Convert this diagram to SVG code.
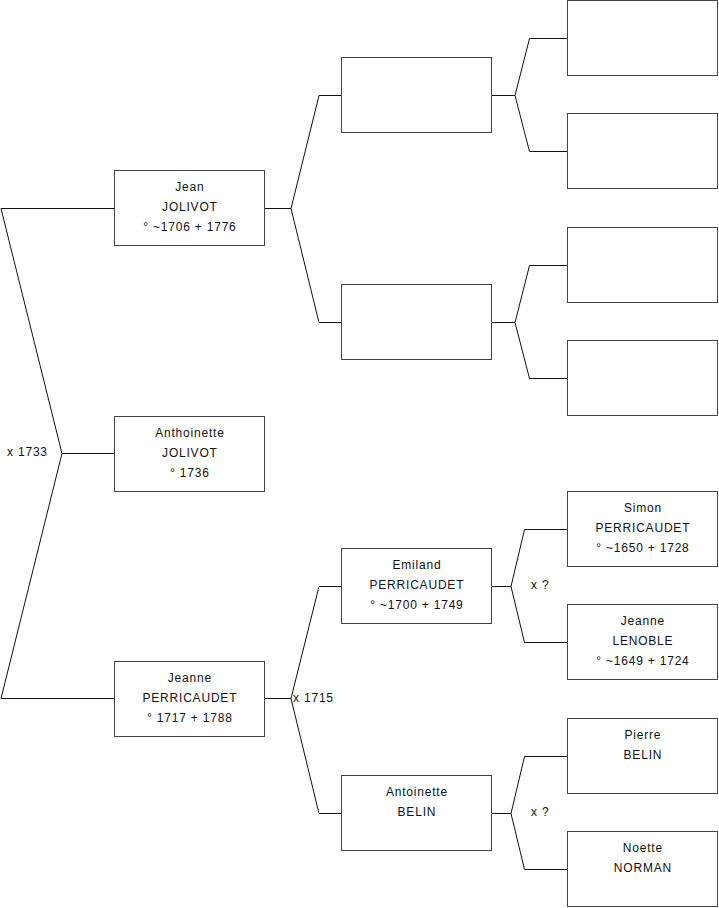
<svg xmlns="http://www.w3.org/2000/svg" width="719" height="908" viewBox="0 0 719 908">
<style>
.box{fill:#fff;stroke:#444;stroke-width:1}
.ln{fill:none;stroke:#111;stroke-width:1}
text{font-family:"Liberation Sans",Arial,sans-serif;font-size:12px;letter-spacing:0.8px;fill:#111}
.c{text-anchor:middle}
</style>
<rect width="719" height="908" fill="#fff"/>
<g id="connectors">
<polyline class="ln" points="114,208.5 1,208.5 62,453.5 1,698.5 114,698.5"/>
<line class="ln" x1="62" y1="453.5" x2="114" y2="453.5"/>
<polyline class="ln" points="341,95.5 319,95.5 291,208.5 319,322.5 341,322.5"/>
<line class="ln" x1="265" y1="208.5" x2="291" y2="208.5"/>
<polyline class="ln" points="567,38.5 529.5,38.5 515,95.5 529.5,151.5 567,151.5"/>
<line class="ln" x1="491" y1="95.5" x2="515" y2="95.5"/>
<polyline class="ln" points="567,265.5 529.5,265.5 515,322.5 529.5,378.5 567,378.5"/>
<line class="ln" x1="491" y1="322.5" x2="515" y2="322.5"/>
<polyline class="ln" points="341,586.5 319,586.5 291,698.5 319,813.5 341,813.5"/>
<line class="ln" x1="265" y1="698.5" x2="291" y2="698.5"/>
<polyline class="ln" points="567,529.5 524.5,529.5 511,586.5 524.5,642.5 567,642.5"/>
<line class="ln" x1="491" y1="586.5" x2="511" y2="586.5"/>
<polyline class="ln" points="567,756.5 524.5,756.5 511,813.5 524.5,869.5 567,869.5"/>
<line class="ln" x1="491" y1="813.5" x2="511" y2="813.5"/>
<text x="7" y="456">x 1733</text>
<text x="293" y="702">x 1715</text>
<text x="531" y="589">x ?</text>
<text x="531" y="816">x ?</text>
</g>
<g id="jean-jolivot"><rect class="box" x="114.5" y="170.5" width="150" height="75"/>
<text class="c" x="189.9" y="191">Jean</text><text class="c" x="189.9" y="211">JOLIVOT</text><text class="c" x="189.9" y="231">° ~1706 + 1776</text></g>
<g id="anthoinette-jolivot"><rect class="box" x="114.5" y="416.5" width="150" height="75"/>
<text class="c" x="189.9" y="437">Anthoinette</text><text class="c" x="189.9" y="457">JOLIVOT</text><text class="c" x="189.9" y="477">° 1736</text></g>
<g id="jeanne-perricaudet"><rect class="box" x="114.5" y="661.5" width="150" height="75"/>
<text class="c" x="189.9" y="682">Jeanne</text><text class="c" x="189.9" y="702">PERRICAUDET</text><text class="c" x="189.9" y="722">° 1717 + 1788</text></g>
<g id="father-jean"><rect class="box" x="341.5" y="57.5" width="150" height="75"/></g>
<g id="mother-jean"><rect class="box" x="341.5" y="284.5" width="150" height="75"/></g>
<g id="emiland-perricaudet"><rect class="box" x="341.5" y="548.5" width="150" height="75"/>
<text class="c" x="416.9" y="569">Emiland</text><text class="c" x="416.9" y="589">PERRICAUDET</text><text class="c" x="416.9" y="609">° ~1700 + 1749</text></g>
<g id="antoinette-belin"><rect class="box" x="341.5" y="775.5" width="150" height="75"/>
<text class="c" x="416.9" y="796">Antoinette</text><text class="c" x="416.9" y="816">BELIN</text></g>
<g id="gp1"><rect class="box" x="567.5" y="0.5" width="150" height="75"/></g>
<g id="gp2"><rect class="box" x="567.5" y="113.5" width="150" height="75"/></g>
<g id="gp3"><rect class="box" x="567.5" y="227.5" width="150" height="75"/></g>
<g id="gp4"><rect class="box" x="567.5" y="340.5" width="150" height="75"/></g>
<g id="simon-perricaudet"><rect class="box" x="567.5" y="491.5" width="150" height="75"/>
<text class="c" x="642.9" y="512">Simon</text><text class="c" x="642.9" y="532">PERRICAUDET</text><text class="c" x="642.9" y="552">° ~1650 + 1728</text></g>
<g id="jeanne-lenoble"><rect class="box" x="567.5" y="604.5" width="150" height="75"/>
<text class="c" x="642.9" y="625">Jeanne</text><text class="c" x="642.9" y="645">LENOBLE</text><text class="c" x="642.9" y="665">° ~1649 + 1724</text></g>
<g id="pierre-belin"><rect class="box" x="567.5" y="718.5" width="150" height="75"/>
<text class="c" x="642.9" y="739">Pierre</text><text class="c" x="642.9" y="759">BELIN</text></g>
<g id="noette-norman"><rect class="box" x="567.5" y="831.5" width="150" height="75"/>
<text class="c" x="642.9" y="852">Noette</text><text class="c" x="642.9" y="872">NORMAN</text></g>
</svg>
